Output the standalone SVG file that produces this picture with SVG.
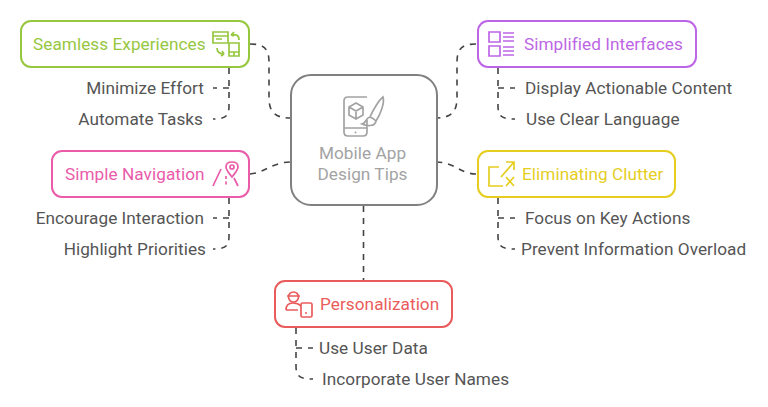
<svg xmlns="http://www.w3.org/2000/svg" width="768" height="407" viewBox="0 0 768 407">
<style>
text{font-family:Roboto,"Liberation Sans",sans-serif;font-size:17.2px;letter-spacing:.05px}
.l{fill:#555}
.box{fill:#fff;stroke-width:2}
.ic{fill:none;stroke-width:1.7}
.c{fill:none;stroke:#444;stroke-width:1.6;stroke-dasharray:6 6}
.e{text-anchor:end}
</style>
<rect width="768" height="407" fill="#fff"/>
<g id="connectors">
<path class="c" d="M250 44C262 44 269 47 269 62V98C269 113 276 118 291 118"/>
<path class="c" d="M476 44C464 44 457 47 457 62V98C457 113 450 118 435 118"/>
<path class="c" d="M250 174C265 173 272 162 291 162"/>
<path class="c" d="M476 174C460 174 455 162 436 162"/>
<path class="c" d="M363.500 206V280"/>
<path class="c" d="M229 68V106C229 116 226 119 213 119"/>
<path class="c" d="M229 88H213"/>
<path class="c" d="M498 68V106C498 116 501 119 515 119"/>
<path class="c" d="M498 88H515"/>
<path class="c" d="M229 198V236C229 246 226 249 213 249"/>
<path class="c" d="M229 218H213"/>
<path class="c" d="M498 198V236C498 246 501 249 515 249"/>
<path class="c" d="M498 218H515"/>
<path class="c" d="M296 328V366C296 376 299 379 313 379"/>
<path class="c" d="M296 348H313"/>
</g>
<g id="central">
<rect class="box" x="291" y="75" width="146" height="130" rx="20" fill="#fff" stroke="#808080"/>
<g class="ic" stroke="#a3a3a3">
<path d="M367 97H348Q344 97 344 101V132Q344 136 348 136H363Q367 136 367 132V120M344 128H367"/>
<path d="M356 103L349 107V115L356 119L363 115V107ZM349 107L356 111L363 107M356 111V119"/>
<path d="M383 97C379 100 373 110 370 117C373 118 375 120 376 121C380 115 385 103 383 97ZM370 117C365 118 367 123 362 124C366 126 375 127 376 121"/>
</g>
<circle cx="355.500" cy="132.500" r="1" fill="#a3a3a3"/>
<text x="362.500" y="159" text-anchor="middle" fill="#a3a3a3">Mobile App</text>
<text x="362.500" y="180" text-anchor="middle" fill="#a3a3a3">Design Tips</text>
</g>
<g id="seamless">
<rect class="box" x="21" y="21" width="228" height="46" rx="10" stroke="#97c73f"/>
<text x="33" y="50" fill="#97c73f">Seamless Experiences</text>
<g class="ic" stroke="#97c73f">
<path d="M213 32H228V43H213ZM213 36H228M216 39H222"/>
<path d="M229 43H239V56H229ZM229 52H239M234 52V56"/>
<path d="M231 35L234 32M231 35L234 36M231 35C236 34 239 35 239 40M217 48C217 52 219 54 224 54M224 54L222 51M224 54L221 56"/>
</g>
<text class="l e" x="204" y="94">Minimize Effort</text>
<text class="l e" x="203" y="125">Automate Tasks</text>
</g>
<g id="simplified">
<rect class="box" x="478" y="21" width="218" height="46" rx="10" stroke="#bd66e5"/>
<g class="ic" stroke="#bd66e5">
<path d="M489 32H500V42H489ZM489 46H500V56H489ZM503 33H514M503 37H514M503 41H514M503 47H514M503 51H514M503 55H514"/>
</g>
<text x="524" y="50" fill="#bd66e5">Simplified Interfaces</text>
<text class="l" x="525" y="94">Display Actionable Content</text>
<text class="l" x="526" y="125">Use Clear Language</text>
</g>
<g id="navigation">
<rect class="box" x="52" y="151" width="197" height="46" rx="10" stroke="#ea5baa"/>
<text x="65" y="180" fill="#ea5baa">Simple Navigation</text>
<g class="ic" stroke="#ea5baa">
<path d="M221 169L213 186M232 162C227 162 226 165 226 167C226 170 229 173 232 177C235 173 238 170 238 167C238 165 237 162 232 162ZM234 178L238 186"/>
<circle cx="232" cy="167" r="2"/>
<path d="M226 176V186" stroke-dasharray="3 2.500"/>
</g>
<text class="l e" x="204" y="224">Encourage Interaction</text>
<text class="l e" x="206" y="255">Highlight Priorities</text>
</g>
<g id="clutter">
<rect class="box" x="478" y="151" width="197" height="46" rx="10" stroke="#e6ce1f"/>
<g class="ic" stroke="#e6ce1f">
<path d="M499 167H489V186H503M501 177L514 162M506 162H514V170M506 177L514 186M514 177L506 186"/>
</g>
<text x="522" y="180" fill="#e6ce1f">Eliminating Clutter</text>
<text class="l" x="525" y="224">Focus on Key Actions</text>
<text class="l" x="521" y="255">Prevent Information Overload</text>
</g>
<g id="personalization">
<rect class="box" x="275" y="281" width="177" height="46" rx="10" stroke="#ea5c5c"/>
<g class="ic" stroke="#ea5c5c">
<circle cx="293.500" cy="297" r="5"/>
<path d="M287 296H300M286 310C286 304 290 303 293 303C296 303 299 304 301 306M286 310H298"/>
<rect x="301" y="303" width="11" height="14" rx="1.500"/>
</g>
<circle cx="306" cy="313" r="1" fill="#ea5c5c"/>
<text x="320" y="310" fill="#ea5c5c">Personalization</text>
<text class="l" x="319" y="354">Use User Data</text>
<text class="l" x="322" y="385">Incorporate User Names</text>
</g>
</svg>
